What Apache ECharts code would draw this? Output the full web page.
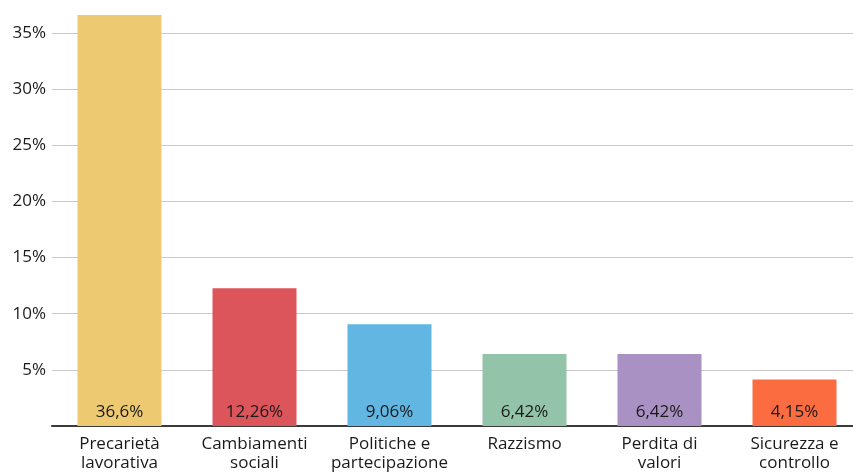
<!DOCTYPE html>
<html>
<head>
<meta charset="utf-8">
<script src="https://cdn.jsdelivr.net/npm/echarts@6/dist/echarts.min.js"></script>
<style>
  html, body { margin: 0; padding: 0; background: #fff; overflow: hidden; }
  #chart { width: 880px; height: 473px; }
</style>
</head>
<body>
<div id="chart"></div>
<script>
// Categories and shares (percent)
const categories = [
  'Precarietà\nlavorativa',
  'Cambiamenti\nsociali',
  'Politiche e\npartecipazione',
  'Razzismo',
  'Perdita di\nvalori',
  'Sicurezza e\ncontrollo'
];
const values = [36.6, 12.26, 9.06, 6.42, 6.42, 4.15];
const valueLabels = ['36,6%', '12,26%', '9,06%', '6,42%', '6,42%', '4,15%'];
const barColors = ['#EDC972', '#DC555B', '#62B6E2', '#93C3A8', '#A991C4', '#FB6D41'];
const yTicks = [5, 10, 15, 20, 25, 30, 35];

const FONT = '"Open Sans"';
const yMax = values[0];

const chart = echarts.init(document.getElementById('chart'), null, { renderer: 'canvas' });

// one grid-line colour per tick (0..35 plus the axis max, which stays hidden)
const splitColors = [0].concat(yTicks).map(() => '#c8c8c8').concat(['rgba(0,0,0,0)']);

chart.setOption({
  animation: false,
  grid: { left: 52, top: 15, width: 810, bottom: 46, containLabel: false },
  xAxis: {
    type: 'category',
    data: categories,
    axisLine: { show: true, lineStyle: { color: '#3a3a3a', width: 2 } },
    axisTick: { show: false },
    axisLabel: {
      color: '#1a1a1a', fontFamily: FONT, fontSize: 17, lineHeight: 19,
      margin: 9, interval: 0
    }
  },
  yAxis: {
    type: 'value',
    min: 0,
    max: yMax,
    interval: 5,
    axisLine: { show: false },
    axisTick: { show: false },
    splitLine: { show: true, lineStyle: { color: splitColors, width: 1 } },
    axisLabel: {
      color: '#1a1a1a', fontFamily: FONT, fontSize: 17, margin: 6,
      formatter: v => (yTicks.indexOf(v) >= 0 ? v + '%' : '')
    }
  },
  series: [{
    type: 'bar',
    data: values.map((v, i) => ({ value: v, itemStyle: { color: barColors[i] } })),
    barWidth: 84,
    label: {
      show: true,
      position: 'insideBottom',
      distance: 5,
      color: '#1a1a1a',
      fontFamily: FONT,
      fontSize: 17,
      formatter: p => valueLabels[p.dataIndex]
    }
  }]
});
</script>
</body>
</html>
